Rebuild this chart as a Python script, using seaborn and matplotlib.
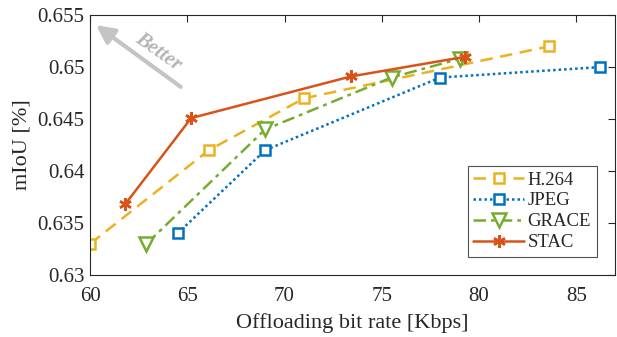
import matplotlib
matplotlib.use("Agg")
import matplotlib.pyplot as plt
import seaborn as sns
import pandas as pd

sns.set_theme(style="white")
plt.rcParams['font.family'] = ['Liberation Serif', 'DejaVu Serif']

series_names = ["H.264", "JPEG", "GRACE", "STAC"]
h264_x = [60.0, 66.1, 71.0, 83.6]
h264_y = [0.633, 0.642, 0.647, 0.652]
jpeg_x = [64.5, 69.0, 78.0, 86.2]
jpeg_y = [0.634, 0.642, 0.649, 0.650]
grace_x = [62.9, 69.0, 75.5, 79.0]
grace_y = [0.633, 0.644, 0.649, 0.6508]
stac_x = [61.8, 65.2, 73.4, 79.3]
stac_y = [0.6368, 0.6451, 0.6491, 0.6510]

xs = [h264_x, jpeg_x, grace_x, stac_x]
ys = [h264_y, jpeg_y, grace_y, stac_y]
colors = ["#EDB120", "#0072BD", "#77AC30", "#D95319"]
styles = [(0, (5, 3)), (0, (1, 1.2)), (0, (5, 2, 1.5, 2)), "-"]
markers = ["s", "s", "v", (6, 2, 0)]
msizes = [7, 7, 10, 9]

fig = plt.figure(figsize=(6.17, 3.37), dpi=100)
ax = fig.add_axes([0.146, 0.184, 0.851, 0.771])

for name, x, y, c, ls, mk, ms in zip(series_names, xs, ys, colors, styles, markers, msizes):
    df = pd.DataFrame({"x": x, "y": y})
    face = "white" if mk != (6, 2, 0) else c
    sns.lineplot(data=df, x="x", y="y", ax=ax, color=c, linestyle=ls, linewidth=1.8,
                 marker=mk, markersize=ms, markerfacecolor=face, markeredgecolor=c,
                 markeredgewidth=1.8, label=name, sort=False)

ax.set_xlim(60, 87)
ax.set_ylim(0.63, 0.655)
ax.set_xticks([60, 65, 70, 75, 80, 85])
ax.set_yticks([0.63, 0.635, 0.64, 0.645, 0.65, 0.655])
ax.set_yticklabels(["0.63", "0.635", "0.64", "0.645", "0.65", "0.655"])
ax.tick_params(direction="in", length=5, width=0.8, labelsize=15, top=True, right=True,
               colors="#262626", labelcolor="#262626")
ax.tick_params(axis="x", pad=9)
ax.tick_params(axis="y", pad=4)
for s in ax.spines.values():
    s.set_color("#262626")
    s.set_linewidth(0.8)
ax.set_xlabel("Offloading bit rate [Kbps]", fontsize=16, color="#262626", labelpad=5)
ax.set_ylabel("mIoU [%]", fontsize=16, color="#262626", labelpad=4)

ax.annotate("", xy=(60.31, 0.65404), xytext=(64.66, 0.6481),
            arrowprops=dict(arrowstyle="-|>,head_length=0.9,head_width=0.45",
                            color="#c4c4c4", lw=3, shrinkA=0, shrinkB=0))
ax.text(63.5, 0.65144, "Better", rotation=-35, fontsize=15, fontweight="bold", fontstyle="italic",
        color="#b4b4b4", ha="center", va="center")

leg = ax.legend(loc="lower right", fontsize=13.5, frameon=True, fancybox=False, borderpad=0.3,
                handlelength=2.7, handletextpad=0.2, labelspacing=0.2, borderaxespad=0,
                bbox_to_anchor=(0.965, 0.07))
leg.get_frame().set_edgecolor("#262626")
leg.get_frame().set_linewidth(0.8)

fig.savefig("out.png", dpi=100)
